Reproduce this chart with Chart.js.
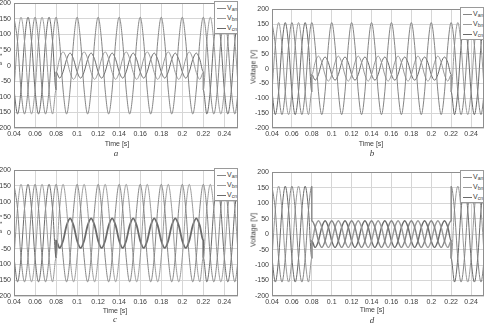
<!DOCTYPE html>
<html>
<head>
<meta charset="utf-8">
<script src="https://cdn.jsdelivr.net/npm/chart.js@4.4.0/dist/chart.umd.min.js"></script>
<style>
html, body { margin: 0; padding: 0; background: #fff; }
body { width: 494px; height: 326px; position: relative; overflow: hidden; font-family: "Liberation Sans", Arial, sans-serif; color: #3c3c3c; }
.lbl { position: absolute; font-size: 7px; white-space: nowrap; transform: translate(-50%, -50%); }
.ylbl { transform: translate(-50%, -50%) rotate(-90deg); }
.cap { position: absolute; font-family: "Liberation Serif", serif; font-style: italic; font-size: 9px; transform: translate(-50%, -50%); }
.legend { position: absolute; background: #fff; border: 1px solid #9a9a9a; box-sizing: border-box; font-size: 7px; line-height: 10px; padding: 0 1px 0 2px; }
.legend div { white-space: nowrap; height: 10px; }
.legend i { display: inline-block; width: 9px; border-top: 1px solid; vertical-align: middle; margin-right: 1px; }
.legend sub { font-size: 5px; vertical-align: -1px; line-height: 0; }
</style>
</head>
<body>
<script>
// time samples [s], 0.08 and 0.22 appear twice (step at fault start / end)
const timeS = [
  0.04, 0.04333, 0.04667, 0.05, 0.05333, 0.05667, 0.06, 0.06333, 0.06667, 0.07, 0.07333, 0.07667, 0.08,
  0.08, 0.08333, 0.08667, 0.09, 0.09333, 0.09667, 0.1, 0.10333, 0.10667, 0.11, 0.11333, 0.11667,
  0.12, 0.12333, 0.12667, 0.13, 0.13333, 0.13667, 0.14, 0.14333, 0.14667, 0.15, 0.15333, 0.15667,
  0.16, 0.16333, 0.16667, 0.17, 0.17333, 0.17667, 0.18, 0.18333, 0.18667, 0.19, 0.19333, 0.19667,
  0.2, 0.20333, 0.20667, 0.21, 0.21333, 0.21667, 0.22,
  0.22, 0.22333, 0.22667, 0.23, 0.23333, 0.23667, 0.24, 0.24333, 0.24667, 0.25, 0.25333
];
const xTicks = [0.04, 0.06, 0.08, 0.1, 0.12, 0.14, 0.16, 0.18, 0.2, 0.22, 0.24];
const xTickLabels = ['0.04', '0.06', '0.08', '0.1', '0.12', '0.14', '0.16', '0.18', '0.2', '0.22', '0.24'];
const yTicks = [-200, -150, -100, -50, 0, 50, 100, 150, 200];
const seriesNames = ['an', 'bn', 'cn'];
const captions = ['a', 'b', 'c', 'd'];
const faultStart = 0.08, faultEnd = 0.22;

// panel a
const vanA = [
  155, 78, -78, -155, -78, 78, 155, 78, -78, -155, -78, 78, 155,
  155, 78, -78, -155, -78, 78, 155, 78, -78, -155, -78, 78, 155, 78, -78, -155, -78, 78,
  155, 78, -78, -155, -78, 78, 155, 78, -78, -155, -78, 78, 155, 78, -78, -155, -78, 78,
  155, 78, -78, -155, -78, 78, 155,
  155, 78, -78, -155, -78, 78, 155, 78, -78, -155, -78
];
const vbnA = [
  -78, 78, 155, 78, -78, -155, -78, 78, 155, 78, -78, -155, -78,
  -22, 22, 44, 22, -22, -44, -22, 22, 44, 22, -22, -44, -22, 22, 44, 22, -22, -44,
  -22, 22, 44, 22, -22, -44, -22, 22, 44, 22, -22, -44, -22, 22, 44, 22, -22, -44,
  -22, 22, 44, 22, -22, -44, -22,
  -78, 78, 155, 78, -78, -155, -78, 78, 155, 78, -78
];
const vcnA = [
  -78, -155, -78, 78, 155, 78, -78, -155, -78, 78, 155, 78, -78,
  -20, -40, -20, 20, 40, 20, -20, -40, -20, 20, 40, 20, -20, -40, -20, 20, 40, 20,
  -20, -40, -20, 20, 40, 20, -20, -40, -20, 20, 40, 20, -20, -40, -20, 20, 40, 20,
  -20, -40, -20, 20, 40, 20, -20,
  -78, -155, -78, 78, 155, 78, -78, -155, -78, 78, 155
];

// panel b
const vanB = [
  155, 78, -78, -155, -78, 78, 155, 78, -78, -155, -78, 78, 155,
  155, 78, -78, -155, -78, 78, 155, 78, -78, -155, -78, 78, 155, 78, -78, -155, -78, 78,
  155, 78, -78, -155, -78, 78, 155, 78, -78, -155, -78, 78, 155, 78, -78, -155, -78, 78,
  155, 78, -78, -155, -78, 78, 155,
  155, 78, -78, -155, -78, 78, 155, 78, -78, -155, -78
];
const vbnB = [
  -78, 78, 155, 78, -78, -155, -78, 78, 155, 78, -78, -155, -78,
  -21, 21, 42, 21, -21, -42, -21, 21, 42, 21, -21, -42, -21, 21, 42, 21, -21, -42,
  -21, 21, 42, 21, -21, -42, -21, 21, 42, 21, -21, -42, -21, 21, 42, 21, -21, -42,
  -21, 21, 42, 21, -21, -42, -21,
  -78, 78, 155, 78, -78, -155, -78, 78, 155, 78, -78
];
const vcnB = [
  -78, -155, -78, 78, 155, 78, -78, -155, -78, 78, 155, 78, -78,
  -20, -39, -20, 20, 39, 20, -20, -39, -20, 20, 39, 20, -20, -39, -20, 20, 39, 20,
  -20, -39, -20, 20, 39, 20, -20, -39, -20, 20, 39, 20, -20, -39, -20, 20, 39, 20,
  -20, -39, -20, 20, 39, 20, -20,
  -78, -155, -78, 78, 155, 78, -78, -155, -78, 78, 155
];

// panel c
const vanC = [
  155, 78, -78, -155, -78, 78, 155, 78, -78, -155, -78, 78, 155,
  155, 78, -78, -155, -78, 78, 155, 78, -78, -155, -78, 78, 155, 78, -78, -155, -78, 78,
  155, 78, -78, -155, -78, 78, 155, 78, -78, -155, -78, 78, 155, 78, -78, -155, -78, 78,
  155, 78, -78, -155, -78, 78, 155,
  155, 78, -78, -155, -78, 78, 155, 78, -78, -155, -78
];
const vbnC = [
  -78, 78, 155, 78, -78, -155, -78, 78, 155, 78, -78, -155, -78,
  -78, 78, 155, 78, -78, -155, -78, 78, 155, 78, -78, -155, -78, 78, 155, 78, -78, -155,
  -78, 78, 155, 78, -78, -155, -78, 78, 155, 78, -78, -155, -78, 78, 155, 78, -78, -155,
  -78, 78, 155, 78, -78, -155, -78,
  -78, 78, 155, 78, -78, -155, -78, 78, 155, 78, -78
];
const vcnC = [
  -78, -155, -78, 78, 155, 78, -78, -155, -78, 78, 155, 78, -78,
  -24, -47, -24, 24, 47, 24, -24, -47, -24, 24, 47, 24, -24, -47, -24, 24, 47, 24,
  -24, -47, -24, 24, 47, 24, -24, -47, -24, 24, 47, 24, -24, -47, -24, 24, 47, 24,
  -24, -47, -24, 24, 47, 24, -24,
  -78, -155, -78, 78, 155, 78, -78, -155, -78, 78, 155
];

// panel d
const vanD = [
  155, 78, -78, -155, -78, 78, 155, 78, -78, -155, -78, 78, 155,
  43, 22, -22, -43, -22, 22, 43, 22, -22, -43, -22, 22, 43, 22, -22, -43, -22, 22,
  43, 22, -22, -43, -22, 22, 43, 22, -22, -43, -22, 22, 43, 22, -22, -43, -22, 22,
  43, 22, -22, -43, -22, 22, 43,
  155, 78, -78, -155, -78, 78, 155, 78, -78, -155, -78
];
const vbnD = [
  -78, 78, 155, 78, -78, -155, -78, 78, 155, 78, -78, -155, -78,
  -22, 22, 43, 22, -22, -43, -22, 22, 43, 22, -22, -43, -22, 22, 43, 22, -22, -43,
  -22, 22, 43, 22, -22, -43, -22, 22, 43, 22, -22, -43, -22, 22, 43, 22, -22, -43,
  -22, 22, 43, 22, -22, -43, -22,
  -78, 78, 155, 78, -78, -155, -78, 78, 155, 78, -78
];
const vcnD = [
  -78, -155, -78, 78, 155, 78, -78, -155, -78, 78, 155, 78, -78,
  -22, -43, -22, 22, 43, 22, -22, -43, -22, 22, 43, 22, -22, -43, -22, 22, 43, 22,
  -22, -43, -22, 22, 43, 22, -22, -43, -22, 22, 43, 22, -22, -43, -22, 22, 43, 22,
  -22, -43, -22, 22, 43, 22, -22,
  -78, -155, -78, 78, 155, 78, -78, -155, -78, 78, 155
];

const lineColors = ['#858585', '#9a9a9a', '#6a6a6a'];
const tickFont = { family: 'Liberation Sans', size: 7 };

// plot boxes on the page; faultWidths = line width inside 0.08..0.22
const panels = [
  { L: 14, R: 238, T: 1, B: 128, series: [vanA, vbnA, vcnA], widths: [1, 1, 1], faultWidths: [1, 1, 1], time: [117, 143], cap: [116, 153], ytitle: [-3, 64] },
  { L: 272, R: 484, T: 7, B: 128, series: [vanB, vbnB, vcnB], widths: [1, 1, 1], faultWidths: [1, 1, 1], time: [371, 143], cap: [372, 153], ytitle: [253, 67] },
  { L: 14, R: 238, T: 168, B: 296, series: [vanC, vbnC, vcnC], widths: [1, 1, 1], faultWidths: [1, 1, 1.8], time: [115, 309.5], cap: [115, 319], ytitle: [-3, 232] },
  { L: 272, R: 484, T: 170, B: 296, series: [vanD, vbnD, vcnD], widths: [1, 1, 1], faultWidths: [1.4, 1.4, 1.4], time: [372, 309], cap: [372, 319.5], ytitle: [253, 230] }
];

const frame = {
  id: 'frame',
  afterDatasetsDraw(chart) {
    const { ctx, chartArea: a } = chart;
    ctx.save();
    ctx.strokeStyle = '#8e8e8e';
    ctx.lineWidth = 1;
    ctx.strokeRect(Math.round(a.left) + 0.5, Math.round(a.top) + 0.5, Math.round(a.right - a.left) - 1, Math.round(a.bottom - a.top) - 1);
    ctx.restore();
  }
};

function addText(cls, text, x, y) {
  const el = document.createElement('div');
  el.className = cls;
  el.innerHTML = text;
  el.style.left = x + 'px';
  el.style.top = y + 'px';
  document.body.appendChild(el);
}

function makePanel(p, n) {
  const yw = 22, xh = 14, tp = 5, rp = 3;
  const W = p.R - p.L + yw + rp, H = p.B - p.T + tp + xh;
  const cv = document.createElement('canvas');
  cv.width = W;
  cv.height = H;
  cv.style.cssText = `position:absolute;left:${p.L - yw}px;top:${p.T - tp}px;width:${W}px;height:${H}px`;
  document.body.appendChild(cv);

  new Chart(cv, {
    type: 'line',
    data: {
      labels: timeS,
      datasets: p.series.map((d, i) => ({
        label: 'V' + seriesNames[i],
        data: d,
        borderColor: lineColors[i],
        borderWidth: p.widths[i],
        segment: {
          borderWidth: c => (c.p0.parsed.x >= faultStart && c.p1.parsed.x <= faultEnd) ? p.faultWidths[i] : p.widths[i]
        },
        pointRadius: 0,
        cubicInterpolationMode: 'monotone',
        fill: false,
        clip: 0
      }))
    },
    options: {
      responsive: false,
      animation: false,
      events: [],
      layout: { padding: { top: tp, right: rp, left: 0, bottom: 0 } },
      plugins: { legend: { display: false }, tooltip: { enabled: false } },
      scales: {
        x: {
          type: 'linear', min: 0.04, max: 0.253,
          afterFit: s => { s.height = xh; },
          afterBuildTicks: s => { s.ticks = xTicks.map(v => ({ value: v })); },
          ticks: { font: tickFont, color: '#3c3c3c', padding: 2, maxRotation: 0, autoSkip: false,
                   callback: (v, i) => xTickLabels[i] },
          grid: { color: '#d6d6d6', drawTicks: false },
          border: { display: false }
        },
        y: {
          min: -200, max: 200,
          afterFit: s => { s.width = yw; },
          afterBuildTicks: s => { s.ticks = yTicks.map(v => ({ value: v })); },
          ticks: { font: tickFont, color: '#3c3c3c', padding: 3, callback: v => String(v) },
          grid: { color: '#d6d6d6', drawTicks: false },
          border: { display: false }
        }
      }
    },
    plugins: [frame]
  });

  // legend
  const lg = document.createElement('div');
  lg.className = 'legend';
  lg.style.cssText = `left:${p.R - 24}px;top:${p.T}px;width:24px;height:33px;padding-top:1px`;
  lg.innerHTML = seriesNames.map((s, i) =>
    `<div><i style="border-color:${lineColors[i]}"></i>V<sub>${s}</sub></div>`).join('');
  document.body.appendChild(lg);

  addText('lbl', 'Time [s]', p.time[0], p.time[1]);
  addText('lbl ylbl', 'Voltage [V]', p.ytitle[0], p.ytitle[1]);
  addText('cap', captions[n], p.cap[0], p.cap[1]);
}

panels.forEach(makePanel);
</script>
</body>
</html>
